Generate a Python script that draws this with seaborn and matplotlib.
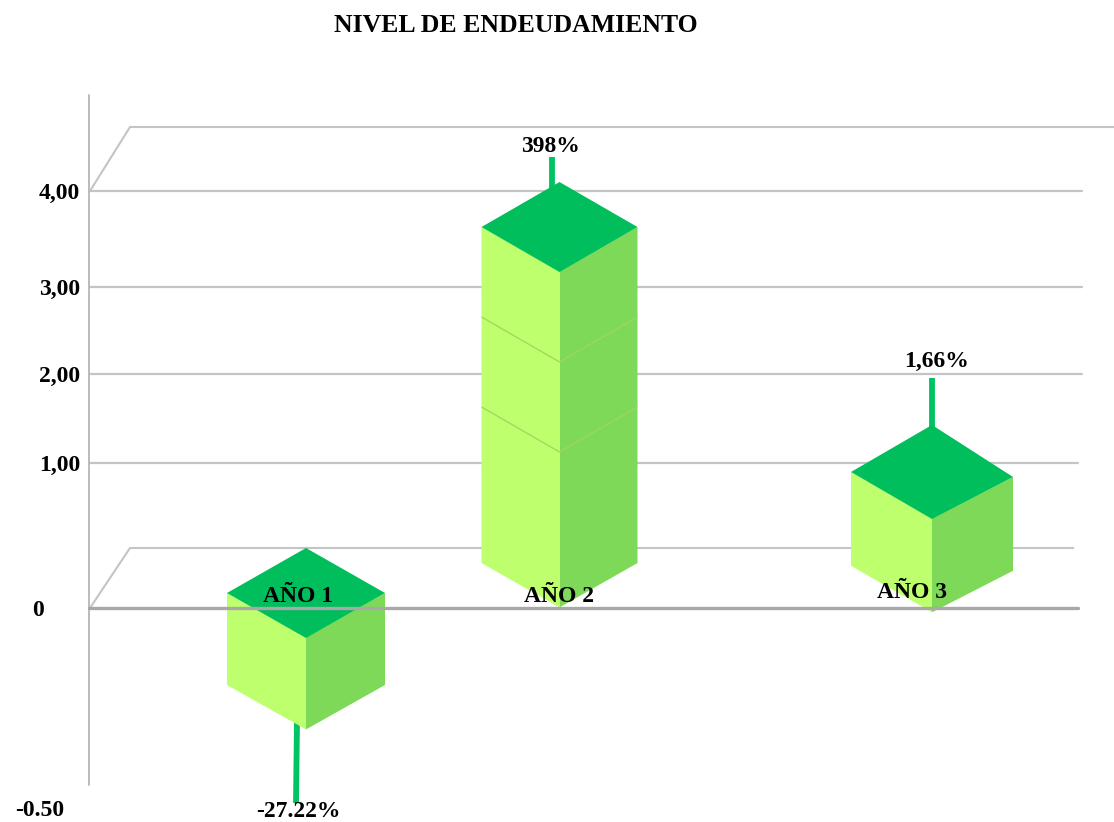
import numpy as np
import pandas as pd
import seaborn as sns
import matplotlib.pyplot as plt
from matplotlib.patches import Polygon
from matplotlib.transforms import IdentityTransform

# Data
anios = ['AÑO 1', 'AÑO 2', 'AÑO 3']
etiquetas = ['-27.22%', '398%', '1,66%']
cara_sup = [-0.075, 3.156, 0.614]    # front top edge of each block
cara_inf = [-0.305, 0.0, -0.012]     # front bottom edge
puntas = [-0.4875, 4.35, 1.955]      # end of the leader lines
cortes_anio2 = [2.138, 1.124]        # seams between the stacked blocks
ticks = [-0.5, 0, 1, 2, 3, 4]
tick_labels = ['-0.50', '0', '1,00', '2,00', '3,00', '4,00']

# Layout, in pixels of the 1114x822 picture
W, H = 1114, 822
centros = [306, 559.5, 932]
semi_ancho = [79, 78, 81]
caida_der = [0, 0, 5]
fondos = [45, 45, 47]
pos_tick = [1008, 808, 608, 463, 374, 287, 191, -1]
val_tick = [-1, -0.5, 0, 1, 2, 3, 4, 6]

VERDE_IZQ = '#BDFF6C'
VERDE_DER = '#7FD958'
VERDE_SUP = '#00BE5C'
GRIS = '#C4C4C4'

sns.set_style('white')
plt.rcParams['font.family'] = ['Liberation Serif', 'DejaVu Serif']


def adelante(v):
    return -np.interp(v, val_tick, pos_tick)


def atras(p):
    return np.interp(-np.asarray(p), pos_tick[::-1], val_tick[::-1])


def valor_de_px(p):
    return float(atras(-p))


fig = plt.figure(figsize=(W / 100, H / 100), dpi=100)
ax = fig.add_axes([0, 0, 1, 1])

df = pd.DataFrame({
    'x': centros * 2,
    'alto': cara_sup * 2,
    'cara': ['izq'] * 3 + ['der'] * 3,
})
sns.barplot(data=df, x='x', y='alto', hue='cara', native_scale=True, ax=ax,
            palette={'izq': VERDE_IZQ, 'der': VERDE_DER}, width=0.68, gap=0,
            errorbar=None, legend=False, saturation=1, zorder=4)

ax.set_yscale('function', functions=(adelante, atras))
ax.set_xlim(0, W)
ax.set_ylim(valor_de_px(822), valor_de_px(0))
sns.despine(ax=ax, left=True, bottom=True)
ax.set_xlabel('')
ax.set_ylabel('')
ax.set_xticks([])
ax.set_yticks(ticks, labels=tick_labels, fontsize=17, fontweight='bold', color='black')
ax.tick_params(axis='y', length=0, pad=0)
ax.patch.set_alpha(0)

# Tick labels do not share one right edge in the original
for lab, xp in zip(ax.get_yticklabels(), [64, 44, 80, 80, 80, 80]):
    lab.set_x(xp / W)


def punto(x, v, dx=0, dy=0):
    px, py = ax.transData.transform((x, v))
    return (px + dx, py - dy)


# Grid, back wall and floor
for t, fin in zip(ticks[2:], [1078, 1082, 1082, 1082]):
    ax.plot([90, fin], [t, t], color=GRIS, lw=1.6, zorder=1)
ax.plot([89, 1078], [0, 0], color='#A8A8A8', lw=2.4, zorder=5.5)
ax.plot([89, 89], [valor_de_px(785), valor_de_px(95)], color='#B5B5B5', lw=1.3, zorder=1)

for nivel, fin, alto in [(4, 1114, 64), (0, 1074, 60)]:
    pts = [punto(90, nivel), punto(130, nivel, dy=-alto), punto(fin, nivel, dy=-alto)]
    ax.add_patch(Polygon(pts, closed=False, fill=False, edgecolor=GRIS, lw=1.5,
                         transform=IdentityTransform(), zorder=1))

# Leader lines sit behind the blocks
for i in range(3):
    xs = centros[i] - (8 if i < 2 else 0)
    ax.plot([xs, xs - (2 if i == 0 else 0)], [cara_sup[i], puntas[i]],
            color='#00C463', lw=4.2, solid_capstyle='butt', zorder=3)

# Bars are clipped to the isometric faces, top face drawn over them
barras = ax.patches
for i in range(3):
    xc, hw, cd, fondo = centros[i], semi_ancho[i], caida_der[i], fondos[i]
    s, b = cara_sup[i], cara_inf[i]
    for k, (lado, extra, solape) in enumerate([(-hw, 0, 1), (hw, cd, -1)]):
        rect = barras[k * 3 + i]
        rect.set_edgecolor('none')
        rect.set_y(b - 0.05)
        rect.set_height(s + 0.6 - b + 0.05)
        forma = Polygon([punto(xc + lado, s, dy=-fondo + extra), punto(xc + solape, s),
                         punto(xc + solape, b), punto(xc + lado, b, dy=-fondo + extra)],
                        transform=IdentityTransform())
        rect.set_clip_path(forma)
    tapa = [punto(xc - hw, s, dy=-fondo), punto(xc, s, dy=-2 * fondo),
            punto(xc + hw, s, dy=-fondo + cd), punto(xc, s)]
    ax.add_patch(Polygon(tapa, facecolor=VERDE_SUP, edgecolor='none',
                         transform=IdentityTransform(), zorder=5))

for c in cortes_anio2:
    xc, hw = centros[1], semi_ancho[1]
    pts = [punto(xc - hw, c, dy=-45), punto(xc, c), punto(xc + hw, c, dy=-45)]
    ax.add_patch(Polygon(pts, closed=False, fill=False, edgecolor='#9FD65E', lw=0.9,
                         transform=IdentityTransform(), zorder=5))

# Text
fig.text(516 / W, 1 - 25 / H, 'NIVEL DE ENDEUDAMIENTO', ha='center', va='center',
         fontsize=18.5, fontweight='bold', color='black')
for x, y, txt in zip([298, 559, 912], [596, 596, 592], anios):
    fig.text(x / W, 1 - y / H, txt, ha='center', va='center', fontsize=17,
             fontweight='bold', color='black', zorder=6)
for x, y, txt in zip([298, 551, 937], [811, 146, 361], etiquetas):
    fig.text(x / W, 1 - y / H, txt, ha='center', va='center', fontsize=17,
             fontweight='bold', color='black', zorder=6)

fig.savefig('out.png', dpi=100)
